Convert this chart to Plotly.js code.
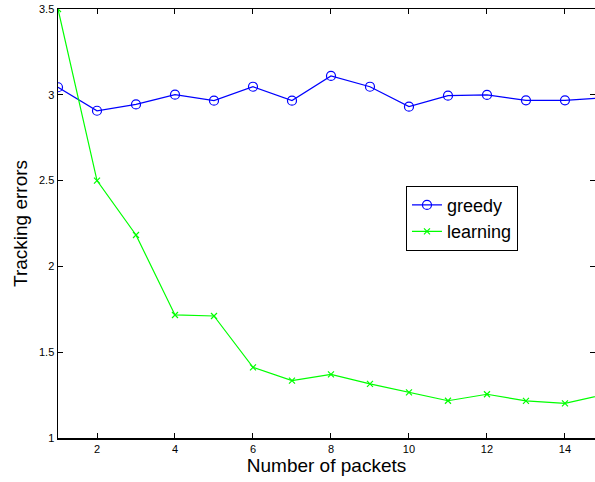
<!DOCTYPE html>
<html>
<head>
<meta charset="utf-8">
<script src="https://cdn.plot.ly/plotly-3.0.1.min.js"></script>
<style>html,body{margin:0;padding:0;background:#fff;}#chart{width:595px;height:482px;}</style>
</head>
<body>
<div id="chart"></div>
<script>
const packets = [1,2,3,4,5,6,7,8,9,10,11,12,13,14,15];
const greedy = [3.044,2.907,2.944,3.001,2.966,3.047,2.966,3.110,3.047,2.931,2.995,2.999,2.968,2.968,2.983];
const learning = [3.5,2.5,2.183,1.717,1.711,1.412,1.334,1.371,1.315,1.266,1.217,1.255,1.216,1.202,1.252];
const xTicks = [2,4,6,8,10,12,14];
const yTicks = [1,1.5,2,2.5,3,3.5];

const traces = [
  {x: packets, y: greedy, name: 'greedy', mode: 'lines+markers', cliponaxis: true,
   line: {color: '#0000ff', width: 1.2},
   marker: {symbol: 'circle-open', size: 9, color: '#0000ff', line: {width: 1.2}}},
  {x: packets, y: learning, name: 'learning', mode: 'lines+markers', cliponaxis: true,
   line: {color: '#00ff00', width: 1.2},
   marker: {symbol: 'x-thin-open', size: 6, color: '#00ff00', line: {width: 1.2, color: '#00ff00'}}}
];

const layout = {
  width: 595, height: 482,
  margin: {l: 58, r: 0, t: 9, b: 44},
  paper_bgcolor: '#fff', plot_bgcolor: '#fff',
  font: {family: 'Liberation Sans, Arial, sans-serif', color: '#000', size: 11},
  showlegend: true,
  legend: {x: 0.648, y: 0.588, xanchor: 'left', yanchor: 'top',
           bordercolor: '#000', borderwidth: 1, bgcolor: '#fff',
           font: {size: 18}, tracegroupgap: 0, itemwidth: 30},
  xaxis: {range: [1, 14.77], tickvals: xTicks, ticks: 'inside', ticklen: 5, tickwidth: 1,
          tickcolor: '#000', showline: true, linecolor: '#000', linewidth: 1.5, mirror: 'ticks',
          showgrid: false, zeroline: false, tickfont: {size: 11},
          title: {text: 'Number of packets', font: {size: 19}, standoff: 4}},
  yaxis: {range: [1, 3.5], tickvals: yTicks, ticks: 'inside', ticklen: 5, tickwidth: 1,
          tickcolor: '#000', showline: true, linecolor: '#000', linewidth: 1.5, mirror: 'ticks',
          showgrid: false, zeroline: false, tickfont: {size: 11},
          title: {text: 'Tracking errors', font: {size: 19}, standoff: 6}}
};

Plotly.newPlot('chart', traces, layout, {displayModeBar: false, staticPlot: true});
</script>
</body>
</html>
